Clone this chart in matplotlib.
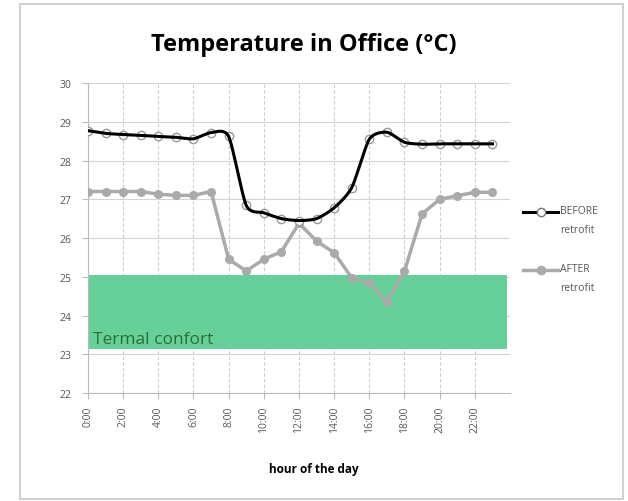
import numpy as np
import matplotlib
matplotlib.use("Agg")
import matplotlib.pyplot as plt
from matplotlib.lines import Line2D
from matplotlib.patches import Rectangle

hours = list(range(24))
hour_labels = [f"{h}:00" for h in hours]
before = [28.77, 28.7, 28.67, 28.65, 28.62, 28.6, 28.56, 28.72, 28.62, 26.84, 26.65, 26.5,
          26.45, 26.5, 26.78, 27.3, 28.55, 28.73, 28.47, 28.42, 28.43, 28.43, 28.43, 28.43]
after = [27.2, 27.2, 27.2, 27.2, 27.13, 27.1, 27.1, 27.2, 25.45, 25.15, 25.45, 25.65,
         26.38, 25.92, 25.62, 24.97, 24.85, 24.35, 25.15, 26.62, 27.0, 27.09, 27.18, 27.18]
comfort_low, comfort_high = 23.13, 25.05
yticks = [22, 23, 24, 25, 26, 27, 28, 29, 30]

def smooth(x, y, n=20, k=0.7):
    # cubic Bezier through the points with Catmull-Rom-like tangents (scaled by k)
    x = np.asarray(x, float); y = np.asarray(y, float)
    P = np.column_stack([x, y])
    m = len(P)
    T = np.zeros_like(P)
    for i in range(m):
        a = P[max(i - 1, 0)]; b = P[min(i + 1, m - 1)]
        T[i] = (b - a) / (2 if 0 < i < m - 1 else 1)
    t = np.linspace(0, 1, n, endpoint=False)[:, None]
    out = []
    for i in range(m - 1):
        c0 = P[i]; c3 = P[i + 1]
        c1 = c0 + k * T[i] / 3; c2 = c3 - k * T[i + 1] / 3
        seg = (1 - t) ** 3 * c0 + 3 * (1 - t) ** 2 * t * c1 + 3 * (1 - t) * t ** 2 * c2 + t ** 3 * c3
        out.append(seg)
    out.append(P[-1:])
    arr = np.vstack(out)
    return arr[:, 0], arr[:, 1]

plt.rcParams['font.family'] = ['Open Sans', 'DejaVu Sans']
fig = plt.figure(figsize=(6.28, 5.02), dpi=100)
fig.patches.append(Rectangle((20 / 628, 2 / 502), 603 / 628, 495 / 502, transform=fig.transFigure,
                             fill=False, edgecolor='#d0d0d0', linewidth=1.5))
ax = fig.add_axes([88 / 628, 1 - 394 / 502, (510 - 88) / 628, (394 - 84) / 502])

ax.set_xlim(0, 24)
ax.set_ylim(22, 30)
ax.axhspan(comfort_low, comfort_high, xmin=0, xmax=23.85 / 24, color='#66d098', zorder=1, lw=0)
ax.text(0.3, 23.4, "Termal confort", color='#2a6e36', fontsize=12.5, zorder=2, va='center')

ax.set_yticks(yticks)
ax.set_xticks(hours[::2])
ax.set_xticklabels(hour_labels[::2], rotation=90, fontsize=7.5, color='#555555')
ax.set_yticklabels([str(v) for v in yticks], fontsize=7.5, color='#555555')
ax.grid(axis='y', color='#d4d4d4', lw=0.8, zorder=0)
ax.grid(axis='x', color='#cccccc', lw=0.8, ls=(0, (3, 2)), zorder=0)
ax.set_axisbelow(True)
for s in ['top', 'right']:
    ax.spines[s].set_visible(False)
for s in ['left', 'bottom']:
    ax.spines[s].set_color('#bbbbbb')
ax.tick_params(axis='y', length=4, color='#bbbbbb', pad=8)
ax.tick_params(axis='x', length=4, color='#bbbbbb', pad=5)

ax.plot(hours, after, color='#aaaaaa', lw=2.5, marker='o', ms=5.5,
        mfc='#aaaaaa', mec='#aaaaaa', zorder=3)
ax.plot(hours, before, ls='none', marker='o', ms=6, mfc='white', mec='#999999', mew=1, zorder=4)
sx, sy = smooth(hours, before)
ax.plot(sx, sy, color='black', lw=2.2, zorder=5)

fig.text(304 / 628, 1 - 45 / 502, "Temperature in Office (°C)", fontsize=17, fontweight='bold',
         ha='center', va='center')
fig.text(314 / 628, 1 - 470 / 502, "hour of the day", fontsize=8.5, fontweight='bold',
         ha='center', va='center')

# legend
for ypix, lab, col, mfc, mec, lw in [(213, "BEFORE\nretrofit", 'black', 'white', '#777777', 2.2),
                                      (271, "AFTER\nretrofit", '#aaaaaa', '#aaaaaa', '#aaaaaa', 2.5)]:
    yf = 1 - ypix / 502
    fig.add_artist(Line2D([523 / 628, 558 / 628], [yf, yf], color=col, lw=lw,
                          transform=fig.transFigure))
    fig.add_artist(Line2D([540.5 / 628], [yf], marker='o', ms=6, mfc=mfc, mec=mec,
                          transform=fig.transFigure))
    fig.text(560 / 628, yf + 7 / 502, lab, fontsize=7.5, color='#555555', va='top',
             ha='left', linespacing=2.0)

fig.savefig("out.png", dpi=100)
